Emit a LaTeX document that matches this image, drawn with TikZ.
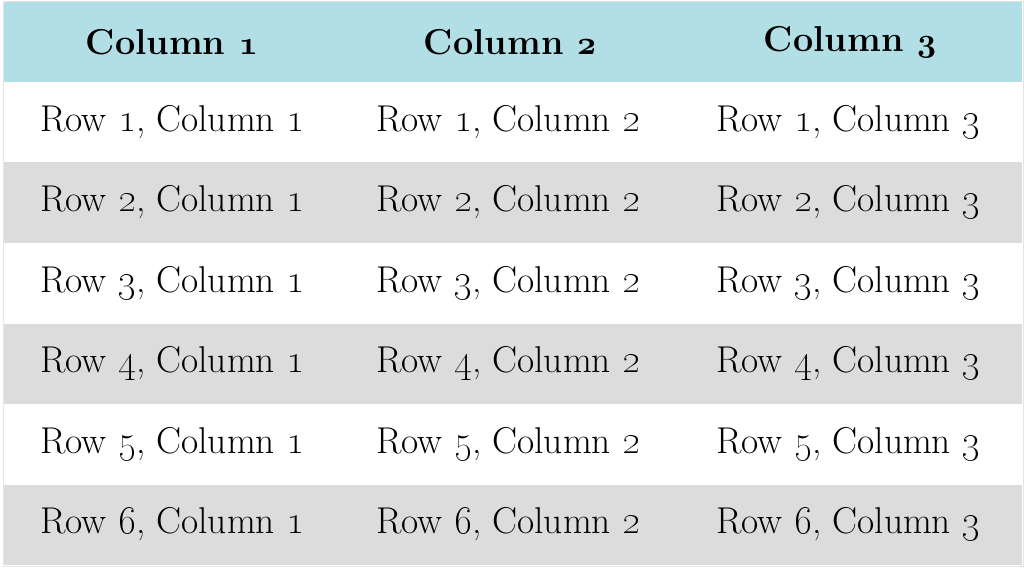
\documentclass[tikz,border=0pt]{standalone}
\definecolor{hdr}{HTML}{B2DFE5}
\definecolor{alt}{HTML}{DCDCDC}
\definecolor{edge}{HTML}{E4E4E4}
\newcommand\bosn[1]{{\usefont{OML}{cmm}{b}{it}#1}}
\tikzset{cell/.style={anchor=west,inner sep=0pt,font=\fontsize{28}{32}\selectfont},
 head/.style={inner sep=0pt,font=\fontsize{27}{32}\selectfont\bfseries}}
\begin{document}
\begin{tikzpicture}[x=0.75pt,y=-0.75pt]
\useasboundingbox (0,0) rectangle (1024,570);
\fill[white] (0,0) rectangle (1024,570);
\fill[hdr] (4,2) rectangle (1022,82);
\foreach \r in {1,...,6}{
  \pgfmathsetmacro\ya{82+80.5*(\r-1)}
  \pgfmathsetmacro\yb{82+80.5*\r}
  \ifodd\r \fill[white] (4,\ya) rectangle (1022,\yb); \else \fill[alt] (4,\ya) rectangle (1022,\yb); \fi
}
\draw[edge] (3,1) rectangle (1023,566);
\node[head] (h1) at (172,42) {Column \bosn{1}};
\node[head] (h2) at (510,42) {Column \bosn{2}};
\node[head] (h3) at (850,42) {Column \bosn{3}};
\foreach \r in {1,...,6}{
  \pgfmathsetmacro\yc{122+80.5*(\r-1)}
  \node[cell] (c\r1) at (40,\yc) {Row \oldstylenums{\r}, Column \oldstylenums{1}};
  \node[cell] (c\r2) at (376,\yc) {Row \oldstylenums{\r}, Column \oldstylenums{2}};
  \node[cell] (c\r3) at (716,\yc) {Row \oldstylenums{\r}, Column \oldstylenums{3}};
}
\end{tikzpicture}
\end{document}
